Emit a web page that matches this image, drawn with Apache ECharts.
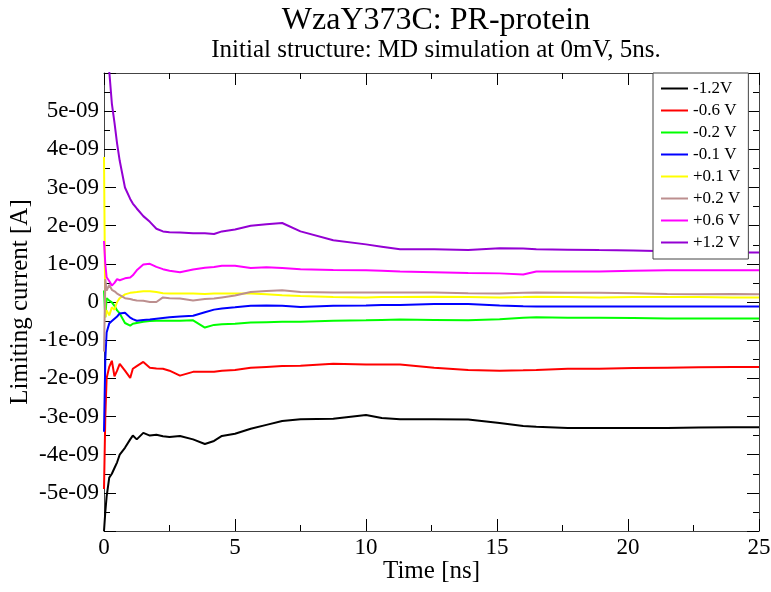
<!DOCTYPE html>
<html>
<head>
  <meta charset="utf-8" />
  <title>WzaY373C: PR-protein</title>
  <script src="https://cdn.jsdelivr.net/npm/echarts@6/dist/echarts.min.js"></script>
  <style>
    html, body { margin: 0; padding: 0; background: #fff; }
    #chart { width: 771px; height: 592px; }
  </style>
</head>
<body>
  <div id="chart"></div>
  <script type="text/javascript">
    // time [ns]
    var timeNs = [0, 0.05, 0.1, 0.2, 0.3, 0.4, 0.5, 0.6, 0.8, 1.0, 1.1, 1.25, 1.5, 1.75, 2.0, 2.25, 2.5, 2.9, 3.4, 3.85,
      4.2, 4.5, 5.0, 5.6, 6.2, 6.8, 7.5, 8.75, 10.0, 10.6, 11.3, 12.6, 13.9, 15.1, 16.0, 16.5, 17.7, 18.9, 20.2, 21.5,
      22.7, 24.0, 25.0]

    // limiting current, in units of 1e-9 A
    var m12 = [-6.0, -5.5, -5.1, -4.6, -4.5, -4.35, -4.2, -4.0, -3.82, -3.6, -3.5, -3.6, -3.43, -3.5, -3.48, -3.52, -3.54, -3.51, -3.6, -3.72,
      -3.64, -3.51, -3.45, -3.32, -3.22, -3.12, -3.07, -3.06, -2.96, -3.04, -3.07, -3.07, -3.08, -3.17, -3.25, -3.27, -3.3, -3.3, -3.3, -3.3,
      -3.29, -3.28, -3.28]
    var m06 = [-4.9, -3.0, -2.0, -1.7, -1.54, -1.95, -1.8, -1.62, -1.8, -1.99, -1.75, -1.68, -1.57, -1.72, -1.74, -1.75, -1.8, -1.93, -1.83, -1.83,
      -1.83, -1.8, -1.78, -1.72, -1.7, -1.68, -1.67, -1.62, -1.64, -1.64, -1.64, -1.72, -1.78, -1.8, -1.79, -1.78, -1.75, -1.75, -1.73, -1.72,
      -1.71, -1.7, -1.7]
    var m02 = [0.3, -0.4, 0.1, 0.04, -0.01, -0.1, -0.22, -0.3, -0.55, -0.62, -0.57, -0.55, -0.52, -0.5, -0.49, -0.49, -0.49, -0.49, -0.48, -0.67,
      -0.6, -0.58, -0.57, -0.54, -0.53, -0.52, -0.52, -0.49, -0.48, -0.47, -0.46, -0.47, -0.48, -0.45, -0.41, -0.4, -0.41, -0.41, -0.42, -0.43,
      -0.43, -0.43, -0.43]
    var m01 = [-3.4, -1.5, -0.8, -0.56, -0.5, -0.44, -0.38, -0.3, -0.28, -0.41, -0.45, -0.49, -0.47, -0.46, -0.44, -0.42, -0.4, -0.38, -0.36, -0.27,
      -0.2, -0.17, -0.14, -0.1, -0.09, -0.1, -0.13, -0.1, -0.09, -0.08, -0.08, -0.05, -0.05, -0.09, -0.11, -0.12, -0.12, -0.12, -0.12, -0.12,
      -0.12, -0.12, -0.12]
    var p01 = [3.8, -0.4, -0.22, -0.35, -0.14, -0.2, 0.0, 0.1, 0.2, 0.24, 0.25, 0.26, 0.28, 0.28, 0.26, 0.23, 0.22, 0.22, 0.22, 0.21,
      0.22, 0.22, 0.22, 0.22, 0.2, 0.18, 0.16, 0.13, 0.12, 0.13, 0.13, 0.14, 0.13, 0.12, 0.13, 0.14, 0.13, 0.12, 0.13, 0.13,
      0.13, 0.12, 0.12]
    var p02 = [-1.3, 0.6, 0.3, 0.45, 0.32, 0.28, 0.22, 0.18, 0.1, 0.08, 0.06, 0.04, 0.03, 0.0, 0.0, 0.12, 0.1, 0.09, 0.04, 0.08,
      0.09, 0.12, 0.17, 0.26, 0.29, 0.31, 0.26, 0.25, 0.25, 0.25, 0.25, 0.25, 0.23, 0.22, 0.24, 0.25, 0.24, 0.24, 0.23, 0.21,
      0.2, 0.21, 0.2]
    var p06 = [1.6, 1.0, 0.65, 0.55, 0.43, 0.5, 0.6, 0.57, 0.62, 0.64, 0.7, 0.83, 0.98, 1.0, 0.92, 0.86, 0.82, 0.78, 0.85, 0.9,
      0.92, 0.95, 0.95, 0.89, 0.91, 0.89, 0.86, 0.84, 0.83, 0.82, 0.8, 0.78, 0.76, 0.75, 0.72, 0.8, 0.8, 0.8, 0.82, 0.83,
      0.83, 0.83, 0.83]
    var p12 = [7.5, 7.0, 6.6, 6.05, 5.2, 4.7, 4.15, 3.7, 3.0, 2.7, 2.58, 2.45, 2.25, 2.1, 1.92, 1.85, 1.83, 1.82, 1.8, 1.8,
      1.78, 1.85, 1.9, 2.0, 2.04, 2.07, 1.85, 1.62, 1.51, 1.45, 1.38, 1.38, 1.36, 1.41, 1.4, 1.38, 1.37, 1.36, 1.35, 1.33,
      1.3, 1.3, 1.3]

    var seriesNames = ["-1.2V", "-0.6 V", "-0.2 V", "-0.1 V", "+0.1 V", "+0.2 V", "+0.6 V", "+1.2 V"]
    var seriesValues = [m12, m06, m02, m01, p01, p02, p06, p12]
    var seriesColors = ["#000000", "#ff0000", "#00ff00", "#0000ff", "#ffff00", "#bc8f8f", "#ff00ff", "#9400d3"]

    var font = "Liberation Serif"

    function pairs(vals) {
      return timeNs.map(function (t, i) {
        return [t, vals[i]]
      })
    }

    function yLabel(v) {
      if (v === 0) return "0"
      if (Math.abs(v) >= 6) return ""
      return v + "e-09"
    }

    var tickCommon = {
      axisLine: { show: true, onZero: false, lineStyle: { color: "#444", width: 1 } },
      axisTick: { show: true, inside: true, length: 12, lineStyle: { color: "#000", width: 1 } },
      minorTick: { show: true, splitNumber: 2, length: 6, lineStyle: { color: "#000", width: 1 } },
      splitLine: { show: false },
      minorSplitLine: { show: false }
    }

    var myChart = echarts.init(document.getElementById("chart"), null, { renderer: "canvas" })

    var option = {
      animation: false,
      backgroundColor: "#fff",
      title: [
        {
          text: "WzaY373C: PR-protein",
          left: 431,
          top: 0,
          textAlign: "center",
          textStyle: { fontFamily: font, fontSize: 32, fontWeight: "normal", color: "#000" }
        },
        {
          text: "Initial structure: MD simulation at 0mV, 5ns.",
          left: 431,
          top: 33,
          textAlign: "center",
          textStyle: { fontFamily: font, fontSize: 25, fontWeight: "normal", color: "#000" }
        }
      ],
      legend: {
        orient: "vertical",
        left: 653,
        top: 73,
        padding: [7, 8, 8, 8],
        itemWidth: 27,
        itemHeight: 14,
        itemGap: 5,
        borderColor: "#444",
        borderWidth: 1,
        backgroundColor: "#fff",
        icon: "path://M0,0L27,0L27,2L0,2Z",
        textStyle: { fontFamily: font, fontSize: 17, color: "#000" },
        data: seriesNames
      },
      grid: { left: 104, right: 12, top: 73, bottom: 61, containLabel: false, outerBoundsMode: "none" },
      xAxis: [
        Object.assign({}, tickCommon, {
          type: "value",
          min: 0,
          max: 25,
          interval: 5,
          position: "bottom",
          name: "Time [ns]",
          nameLocation: "middle",
          nameGap: 28,
          nameMoveOverlap: false,
          nameTextStyle: { fontFamily: font, fontSize: 25, color: "#000" },
          axisLabel: { fontFamily: font, fontSize: 23, color: "#000", margin: 5 }
        }),
        Object.assign({}, tickCommon, {
          type: "value",
          min: 0,
          max: 25,
          interval: 5,
          position: "top",
          axisLabel: { show: false }
        })
      ],
      yAxis: [
        Object.assign({}, tickCommon, {
          type: "value",
          min: -6,
          max: 6,
          interval: 1,
          position: "left",
          name: "Limiting current [A]",
          nameLocation: "middle",
          nameGap: 71,
          nameMoveOverlap: false,
          nameTextStyle: { fontFamily: font, fontSize: 25, color: "#000" },
          axisLabel: { fontFamily: font, fontSize: 23, color: "#000", margin: 5, formatter: yLabel }
        }),
        Object.assign({}, tickCommon, {
          type: "value",
          min: -6,
          max: 6,
          interval: 1,
          position: "right",
          axisLabel: { show: false }
        })
      ],
      series: seriesNames.map(function (name, i) {
        return {
          name: name,
          type: "line",
          data: pairs(seriesValues[i]),
          showSymbol: false,
          symbol: "none",
          clip: true,
          color: seriesColors[i],
          lineStyle: { width: 2, color: seriesColors[i] }
        }
      })
    }
    myChart.setOption(option, true)
  </script>
</body>
</html>
